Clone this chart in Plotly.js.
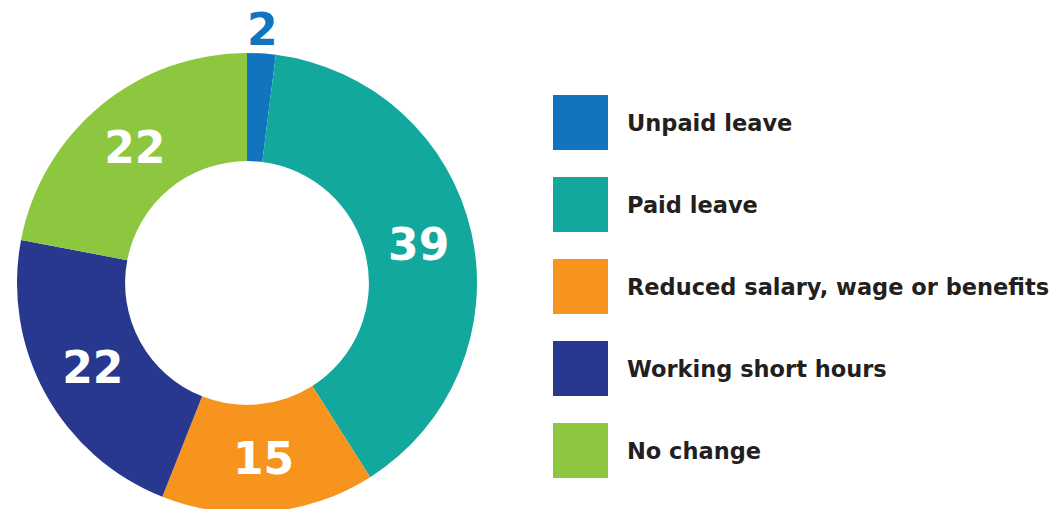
<!DOCTYPE html>
<html>
<head>
<meta charset="utf-8">
<script src="https://cdn.plot.ly/plotly-3.0.1.min.js"></script>
<style>
html, body { margin: 0; padding: 0; overflow: hidden; background: #fff; }
#chart { width: 1052px; height: 513px; }
</style>
</head>
<body>
<div id="chart"></div>
<script>
const categories = ["Unpaid leave", "Paid leave", "Reduced salary, wage or benefits", "Working short hours", "No change"];
const values = [2, 39, 15, 22, 22];
const colors = ["#1174be", "#12a89d", "#f7941e", "#29388f", "#8dc63f"];

const W = 1052, H = 513;
const cx = 247, cy = 283, R = 230;
const fontFam = "'DejaVu Sans', sans-serif";

// small slices get their label outside the ring (placed by annotation below)
const isSmall = values.map(v => v < 5);
const total = values.reduce((a, b) => a + b, 0);

const trace = {
  type: "pie",
  labels: categories,
  values: values,
  sort: false,
  direction: "clockwise",
  rotation: 0,
  hole: 0.53,
  marker: { colors: colors, line: { width: 0 } },
  textinfo: "value",
  texttemplate: values.map((v, i) => isSmall[i] ? "" : "%{value}"),
  textposition: values.map((v, i) => isSmall[i] ? "none" : "inside"),
  insidetextorientation: "horizontal",
  insidetextfont: { family: fontFam, size: 44, color: "#ffffff", weight: "bold" },
  showlegend: false,
  hoverinfo: "label+value",
  domain: { x: [(cx - R) / W, (cx + R) / W], y: [(H - (cy + R)) / H, (H - (cy - R)) / H] }
};

const shapes = [];
const annotations = [];

// outside labels for small slices, positioned from the slice's mid angle
let cum = 0;
values.forEach((v, i) => {
  const mid = cum + v / 2;
  cum += v;
  if (!isSmall[i]) return;
  const ang = Math.PI / 2 - 2 * Math.PI * mid / total;
  const r = R + 24;
  const px = cx + r * Math.cos(ang);
  const py = cy - r * Math.sin(ang);
  annotations.push({
    xref: "paper", yref: "paper",
    x: px / W, y: 1 - py / H,
    xanchor: "center", yanchor: "middle",
    text: String(v), showarrow: false,
    font: { family: fontFam, size: 44, color: colors[i], weight: "bold" }
  });
});

const legX = 553, legSize = 55, legTop = 95, legStep = 82, textX = 625;
categories.forEach((c, i) => {
  const top = legTop + i * legStep;
  shapes.push({
    type: "rect", xref: "paper", yref: "paper",
    x0: legX / W, x1: (legX + legSize) / W,
    y0: 1 - (top + legSize) / H, y1: 1 - top / H,
    fillcolor: colors[i], line: { width: 0 }
  });
  annotations.push({
    xref: "paper", yref: "paper",
    x: textX / W, y: 1 - (top + legSize / 2) / H,
    xanchor: "left", yanchor: "middle",
    text: c, showarrow: false,
    font: { family: fontFam, size: 22.5, color: "#231f20", weight: "bold" }
  });
});

const layout = {
  width: W, height: H,
  margin: { l: 0, r: 0, t: 0, b: 0 },
  paper_bgcolor: "#ffffff",
  shapes: shapes,
  annotations: annotations
};

Plotly.newPlot("chart", [trace], layout, { displayModeBar: false, staticPlot: true });
</script>
</body>
</html>
